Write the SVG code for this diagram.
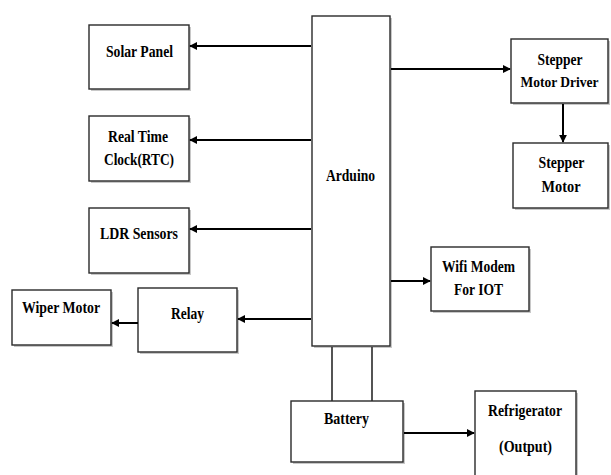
<svg xmlns="http://www.w3.org/2000/svg" width="611" height="475" viewBox="0 0 611 475">
<style>
.box{fill:#fff;stroke:#2a2a2a;stroke-width:1.4}
.sh{fill:#c8c8c8}
.t{font-family:"Liberation Serif","Times New Roman",serif;font-weight:bold;font-size:16px;fill:#000;text-anchor:middle}
.c{stroke:#000;stroke-width:2;fill:none}
.w{stroke:#2a2a2a;stroke-width:1.6;fill:none}
</style>
<defs>
<marker id="ah" viewBox="0 0 10 10" refX="9" refY="5" markerWidth="8" markerHeight="8" markerUnits="userSpaceOnUse" orient="auto">
<path d="M0,0 L10,5 L0,10 Z" fill="#000"/>
</marker>
</defs>
<rect width="611" height="475" fill="#fff"/>
<g id="arduino"><rect class="sh" x="314" y="18" width="78" height="330"/><rect class="box" x="312" y="16" width="78" height="330"/><text class="t" x="350.5" y="181" textLength="49" lengthAdjust="spacingAndGlyphs">Arduino</text></g>
<g id="solar"><rect class="sh" x="91" y="27" width="100" height="64"/><rect class="box" x="89" y="25" width="100" height="64"/><text class="t" x="139.5" y="57" textLength="67" lengthAdjust="spacingAndGlyphs">Solar Panel</text></g>
<g id="rtc"><rect class="sh" x="91" y="118" width="100" height="65"/><rect class="box" x="89" y="116" width="100" height="65"/><text class="t" x="138" y="142" textLength="60" lengthAdjust="spacingAndGlyphs">Real Time</text><text class="t" x="139" y="165" textLength="70" lengthAdjust="spacingAndGlyphs">Clock(RTC)</text></g>
<g id="ldr"><rect class="sh" x="91" y="210" width="100" height="65"/><rect class="box" x="89" y="208" width="100" height="65"/><text class="t" x="139" y="239" textLength="78" lengthAdjust="spacingAndGlyphs">LDR Sensors</text></g>
<g id="relay"><rect class="sh" x="140" y="290" width="99" height="64"/><rect class="box" x="138" y="288" width="99" height="64"/><text class="t" x="187.5" y="319" textLength="33" lengthAdjust="spacingAndGlyphs">Relay</text></g>
<g id="wiper"><rect class="sh" x="14" y="292" width="99" height="55"/><rect class="box" x="12" y="290" width="99" height="55"/><text class="t" x="61" y="313" textLength="78" lengthAdjust="spacingAndGlyphs">Wiper Motor</text></g>
<g id="driver"><rect class="sh" x="513" y="41" width="97" height="64"/><rect class="box" x="511" y="39" width="97" height="64"/><text class="t" x="560" y="65" textLength="45" lengthAdjust="spacingAndGlyphs">Stepper</text><text class="t" x="559.5" y="87" style="font-size:15px" textLength="78" lengthAdjust="spacingAndGlyphs">Motor Driver</text></g>
<g id="motor"><rect class="sh" x="515" y="145" width="95" height="65"/><rect class="box" x="513" y="143" width="95" height="65"/><text class="t" x="561.5" y="168" textLength="46" lengthAdjust="spacingAndGlyphs">Stepper</text><text class="t" x="561" y="192" textLength="39" lengthAdjust="spacingAndGlyphs">Motor</text></g>
<g id="wifi"><rect class="sh" x="433" y="249" width="98" height="64"/><rect class="box" x="431" y="247" width="98" height="64"/><text class="t" x="478.5" y="272" textLength="73" lengthAdjust="spacingAndGlyphs">Wifi Modem</text><text class="t" x="478.5" y="295" textLength="49" lengthAdjust="spacingAndGlyphs">For IOT</text></g>
<g id="battery"><rect class="sh" x="293" y="403" width="112" height="61"/><rect class="box" x="291" y="401" width="112" height="61"/><text class="t" x="346.5" y="424" textLength="45" lengthAdjust="spacingAndGlyphs">Battery</text></g>
<g id="fridge"><rect class="sh" x="477" y="393" width="101" height="90"/><rect class="box" x="475" y="391" width="101" height="90"/><text class="t" x="525" y="416" textLength="74" lengthAdjust="spacingAndGlyphs">Refrigerator</text><text class="t" x="525.5" y="452" textLength="53" lengthAdjust="spacingAndGlyphs">(Output)</text></g>
<g id="connectors">
<line class="c" x1="311" y1="46" x2="190" y2="46" marker-end="url(#ah)"/>
<line class="c" x1="311" y1="140" x2="190" y2="140" marker-end="url(#ah)"/>
<line class="c" x1="311" y1="229" x2="190" y2="229" marker-end="url(#ah)"/>
<line class="c" x1="311" y1="319" x2="238" y2="319" marker-end="url(#ah)"/>
<line class="c" x1="138" y1="323" x2="112" y2="323" marker-end="url(#ah)"/>
<line class="c" x1="391" y1="69" x2="510" y2="69" marker-end="url(#ah)"/>
<line class="c" x1="563" y1="104" x2="563" y2="142" marker-end="url(#ah)"/>
<line class="c" x1="391" y1="281" x2="430" y2="281" marker-end="url(#ah)"/>
<line class="c" x1="404" y1="433" x2="474" y2="433" marker-end="url(#ah)"/>
<line class="w" x1="332" y1="347" x2="332" y2="401"/>
<line class="w" x1="372" y1="347" x2="372" y2="401"/>
</g>
</svg>
